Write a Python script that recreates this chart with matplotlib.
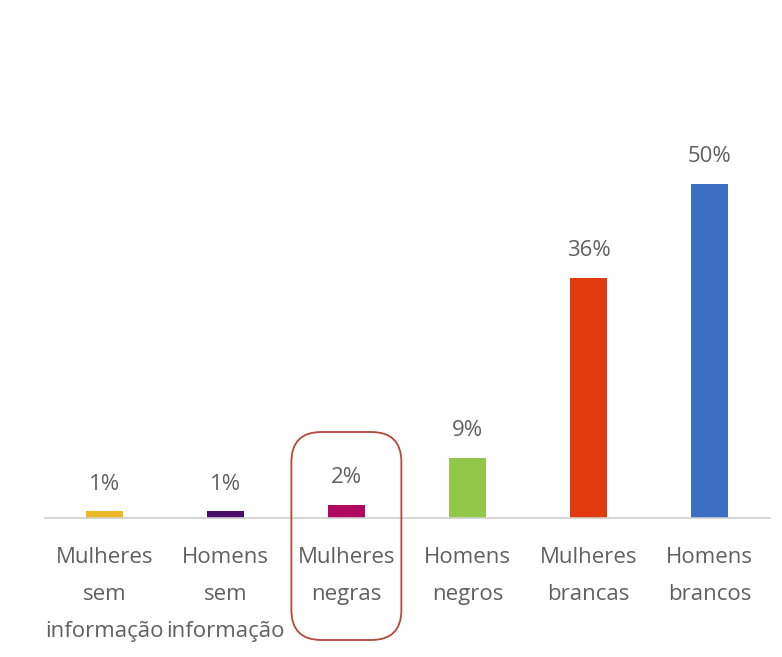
import matplotlib
matplotlib.use("Agg")
import matplotlib.pyplot as plt
from matplotlib.patches import FancyBboxPatch

categories = ["Mulheres\nsem\ninformação", "Homens\nsem\ninformação", "Mulheres\nnegras",
              "Homens\nnegros", "Mulheres\nbrancas", "Homens\nbrancos"]
values = [1, 1, 2, 9, 36, 50]
labels = ["1%", "1%", "2%", "9%", "36%", "50%"]
colors = ["#EDB825", "#4A0E6B", "#B0075F", "#92C84A", "#E03A0E", "#3A6FC4"]

plt.rcParams['font.family'] = ['Open Sans', 'DejaVu Sans']
fig = plt.figure(figsize=(7.82, 6.57), dpi=100)
ax = fig.add_axes([45/782, (657-518)/657, 725/782, 418/657])
x = list(range(len(categories)))
ax.bar(x, values, width=0.31, color=colors, zorder=2)
ax.set_xlim(-0.49, 5.5)
ax.set_ylim(0, 418/6.68)
for xi, v, l in zip(x, values, labels):
    ax.annotate(l, (xi, v), xytext=(0, 19.5), textcoords='offset points',
                ha='center', va='center', fontsize=16, color='#606060')
ax.set_xticks(x)
ax.set_xticklabels(categories, fontsize=16, color='#606060', linespacing=2.0)
ax.tick_params(axis='x', length=0, pad=21)
ax.set_yticks([])
for s in ['top', 'right', 'left']:
    ax.spines[s].set_visible(False)
ax.spines['bottom'].set_color('#D0D0D0')
ax.spines['bottom'].set_linewidth(1.2)

# highlight box around "Mulheres negras"
fig.canvas.draw()
cx_px = ax.transData.transform((2, 0))[0]
w_in, x0_in = 1.10, cx_px/100 - 0.55
box = FancyBboxPatch((x0_in, 0.17), w_in, 2.08, boxstyle="round,pad=0,rounding_size=0.3",
                     transform=fig.dpi_scale_trans, fill=False, edgecolor='#B5473A',
                     linewidth=1.3, zorder=5)
fig.patches.append(box)

fig.savefig("out.png", dpi=100, facecolor='white')
